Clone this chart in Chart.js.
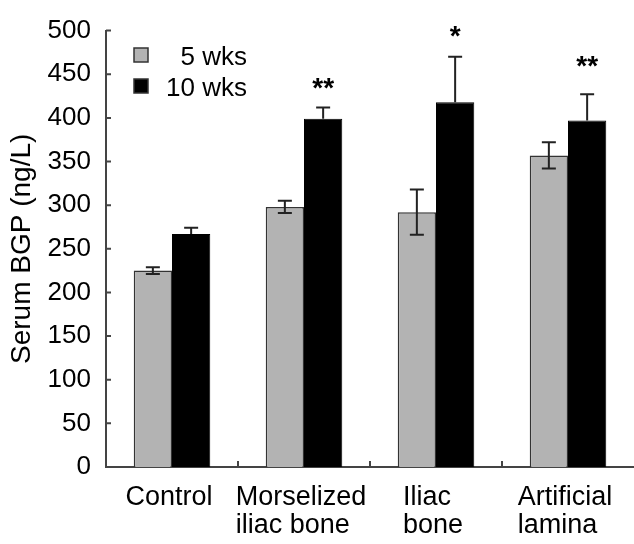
<!DOCTYPE html>
<html>
<head>
<meta charset="utf-8">
<script src="https://cdn.jsdelivr.net/npm/chart.js@4"></script>
<style>
  body { margin: 0; background: #fff; }
  canvas { display: block; }
</style>
</head>
<body>
<canvas id="bgpChart" width="634" height="544"></canvas>
<script>
// values
const groups = [['Control'], ['Morselized', 'iliac bone'], ['Iliac', 'bone'], ['Artificial', 'lamina']];
const weeks5 = [225, 298, 292, 357];
const err5 = [4, 7, 26, 15];
const weeks10 = [267, 399, 418, 397];
const err10 = [7, 13, 52, 30];
const sigMarks = ['', '**', '*', '**'];
const sigLevel = [null, 434, 494, 460];
const yTicks = [0, 50, 100, 150, 200, 250, 300, 350, 400, 450, 500];

const FONT = "'Liberation Sans', Arial, sans-serif";
Chart.defaults.font.family = FONT;
Chart.defaults.color = '#000';

const errs = [err5, err10];

// error bars, significance stars, inside ticks, legend and the x labels
const extras = {
  id: 'extras',
  afterDatasetsDraw(chart) {
    const ctx = chart.ctx;
    const y = chart.scales.y;
    const x = chart.scales.x;
    const area = chart.chartArea;
    ctx.save();

    // error bars
    ctx.strokeStyle = '#222';
    ctx.lineWidth = 2;
    chart.data.datasets.forEach((ds, di) => {
      const meta = chart.getDatasetMeta(di);
      meta.data.forEach((bar, j) => {
        const v = ds.data[j], e = errs[di][j];
        const top = y.getPixelForValue(v + e);
        const bot = y.getPixelForValue(di === 0 ? v - e : v);
        ctx.beginPath();
        ctx.moveTo(bar.x, top); ctx.lineTo(bar.x, bot);
        ctx.moveTo(bar.x - 7, top); ctx.lineTo(bar.x + 7, top);
        if (di === 0) { ctx.moveTo(bar.x - 7, bot); ctx.lineTo(bar.x + 7, bot); }
        ctx.stroke();
      });
    });

    // stars above the 10 wks bars
    const meta10 = chart.getDatasetMeta(1);
    ctx.fillStyle = '#000';
    ctx.font = 'bold 28px ' + FONT;
    ctx.textAlign = 'center';
    ctx.textBaseline = 'alphabetic';
    sigMarks.forEach((m, j) => {
      if (!m) return;
      ctx.fillText(m, meta10.data[j].x, y.getPixelForValue(sigLevel[j]) + 9);
    });

    // tick marks pointing into the plot
    ctx.strokeStyle = '#444';
    ctx.lineWidth = 2;
    ctx.beginPath();
    y.ticks.forEach(t => {
      const py = y.getPixelForValue(t.value);
      ctx.moveTo(area.left, py); ctx.lineTo(area.left + 5, py);
    });
    const step = x.getPixelForValue(1) - x.getPixelForValue(0);
    for (let j = 1; j < groups.length; j++) {
      const px = x.getPixelForValue(j) - step / 2;
      ctx.moveTo(px, area.bottom); ctx.lineTo(px, area.bottom - 6);
    }
    ctx.stroke();

    // category labels, lines left aligned inside a centred block
    ctx.font = '27px ' + FONT;
    ctx.textAlign = 'left';
    groups.forEach((lines, j) => {
      const w = Math.max(...lines.map(s => ctx.measureText(s).width));
      const left = x.getPixelForValue(j) - w / 2 - 3;
      lines.forEach((s, k) => ctx.fillText(s, left, area.bottom + 38 + k * 28));
    });

    // legend
    ctx.font = '26px ' + FONT;
    ctx.textAlign = 'right';
    chart.data.datasets.forEach((ds, di) => {
      const by = 48 + di * 31;
      ctx.fillStyle = ds.backgroundColor;
      ctx.fillRect(134, by, 14, 14);
      ctx.strokeStyle = '#333';
      ctx.lineWidth = 1.5;
      ctx.strokeRect(134, by, 14, 14);
      ctx.fillStyle = '#000';
      ctx.fillText(ds.label, 247, by + 17);
    });
    ctx.restore();
  }
};

new Chart(document.getElementById('bgpChart'), {
  type: 'bar',
  data: {
    labels: groups,
    datasets: [
      { label: '5 wks', data: weeks5, backgroundColor: '#b3b3b3', borderColor: '#333', borderWidth: 1.5 },
      { label: '10 wks', data: weeks10, backgroundColor: '#000', borderColor: '#000', borderWidth: 1 }
    ]
  },
  options: {
    responsive: false,
    animation: false,
    devicePixelRatio: 1,
    layout: { padding: { top: 22, right: 0, left: 0, bottom: 0 } },
    datasets: { bar: { categoryPercentage: 0.58, barPercentage: 1.0 } },
    plugins: { legend: { display: false }, tooltip: { enabled: false } },
    scales: {
      x: {
        grid: { display: false, drawTicks: false },
        border: { color: '#444', width: 2 },
        ticks: { display: false },
        afterFit(scale) { scale.height = 77; }
      },
      y: {
        min: 0,
        max: 500,
        afterBuildTicks(scale) { scale.ticks = yTicks.map(v => ({ value: v })); },
        grid: { display: false, drawTicks: false },
        border: { color: '#444', width: 2 },
        ticks: { font: { size: 26 }, padding: 15, color: '#000' },
        title: { display: true, text: 'Serum BGP (ng/L)', font: { size: 28 }, color: '#000', padding: { top: 5, bottom: 0 } },
        afterFit(scale) { scale.width = 106; }
      }
    }
  },
  plugins: [extras]
});
</script>
</body>
</html>
